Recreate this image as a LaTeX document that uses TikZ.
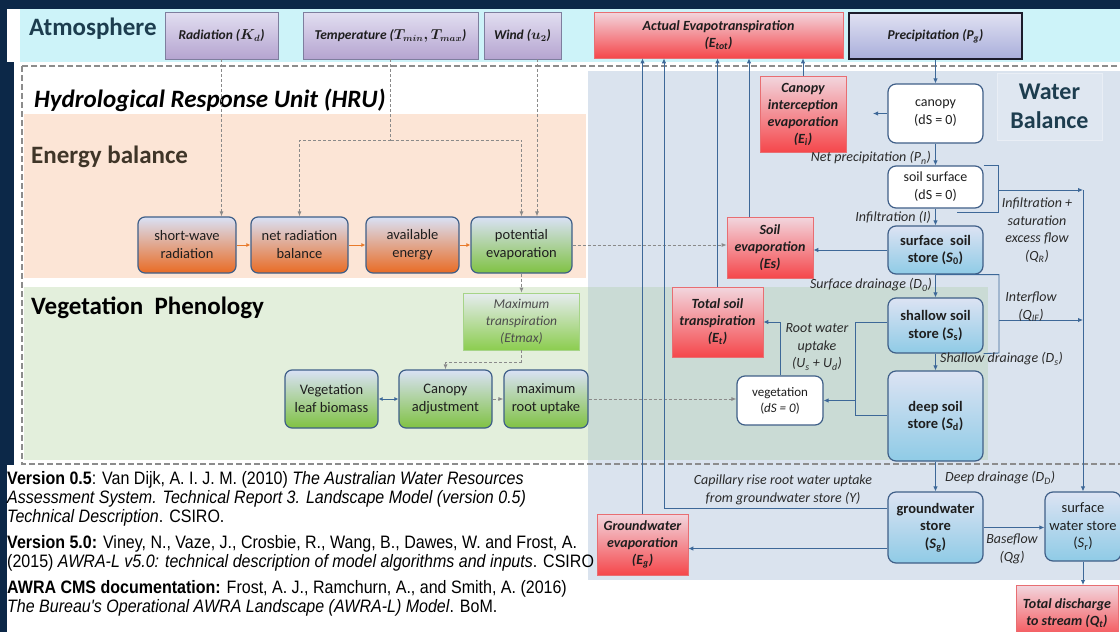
\documentclass[tikz,border=0pt]{standalone}
\usepackage{fontspec}
\setmainfont{Carlito}
\newfontfamily\reffont[FakeStretch=0.89]{Liberation Sans}
\usetikzlibrary{arrows.meta}

\definecolor{navy}{HTML}{0C2848}
\definecolor{cyanband}{HTML}{CDF3F9}
\definecolor{orangeR}{HTML}{FCE5D6}
\definecolor{blueR}{HTML}{DAE3EE}
\definecolor{greenR}{HTML}{E3EFDC}
\definecolor{greenB}{HTML}{CADBD5}
\definecolor{wbFill}{HTML}{DFE7F1}
\definecolor{wbLine}{HTML}{E9EEF5}
\definecolor{atmT}{HTML}{E2DFF1}
\definecolor{atmBot}{HTML}{B5A4D0}
\definecolor{atmB}{HTML}{7E7E9E}
\definecolor{prT}{HTML}{E0E1F2}
\definecolor{prBot}{HTML}{A9AEDB}
\definecolor{prB}{HTML}{1C1C2C}
\definecolor{redT}{HTML}{F2D6DE}
\definecolor{redBot}{HTML}{F5474B}
\definecolor{redB}{HTML}{E86E72}
\definecolor{boxB}{HTML}{3F5F88}
\definecolor{eT}{HTML}{D9E1F5}
\definecolor{eBot}{HTML}{E96B24}
\definecolor{gBot}{HTML}{80C243}
\definecolor{sT}{HTML}{DCE3F3}
\definecolor{sBot}{HTML}{8FCBE6}
\definecolor{mtT}{HTML}{E6ECF0}
\definecolor{mtBot}{HTML}{8CCD4F}
\definecolor{mtB}{HTML}{A6D488}
\definecolor{flowC}{HTML}{3D6898}
\definecolor{dashC}{HTML}{8A8A8A}
\definecolor{hruC}{HTML}{8C8C8C}
\definecolor{oraC}{HTML}{E87A2A}
\definecolor{labC}{HTML}{2A2A2A}
\definecolor{txtC}{HTML}{1E1E1E}
\definecolor{atmTxt}{HTML}{1D3D4F}
\definecolor{enTxt}{HTML}{3F3528}

\tikzset{
  atm/.style={draw=atmB, line width=0.8pt, top color=atmT, bottom color=atmBot, inner sep=0pt,
    align=center, text=txtC, font=\fontsize{13.5}{15}\selectfont\bfseries\itshape\boldmath},
  prbox/.style={atm, draw=prB, line width=1.3pt, top color=prT, bottom color=prBot},
  redbox/.style={draw=redB, line width=0.8pt, top color=redT, bottom color=redBot, inner sep=0pt,
    align=center, text=txtC, font=\fontsize{14}{17}\selectfont\bfseries\itshape},
  ebox/.style={rounded corners=7pt, draw=boxB, line width=1.2pt, top color=eT, bottom color=eBot,
    inner sep=0pt, align=center, text=txtC, font=\fontsize{14.5}{18}\selectfont},
  gbox/.style={ebox, bottom color=gBot},
  store/.style={rounded corners=8pt, draw=boxB, line width=1.2pt, top color=sT, bottom color=sBot,
    inner sep=0pt, align=center, text=txtC, font=\fontsize{14.5}{17.5}\selectfont\bfseries},
  wbox/.style={rounded corners=8pt, draw=boxB, line width=1.2pt, fill=white, inner sep=0pt,
    align=center, text=txtC, font=\fontsize{14}{18}\selectfont},
  mtbox/.style={draw=mtB, line width=0.6pt, top color=mtT, bottom color=mtBot, inner sep=0pt,
    align=center, text=black!70, font=\fontsize{13.5}{17}\selectfont\itshape},
  flow/.style={draw=flowC, line width=0.9pt},
  flowA/.style={flow, -{Latex[length=5pt,width=4.5pt]}},
  bothA/.style={flow, {Latex[length=4pt,width=4pt]}-{Latex[length=4pt,width=4pt]}},
  dsh/.style={draw=dashC, line width=0.8pt, dash pattern=on 3pt off 2pt},
  dshA/.style={dsh, -{Latex[length=5pt,width=4pt]}},
  orA/.style={draw=oraC, line width=1pt, -{Latex[length=4pt,width=4pt]}},
  lab/.style={inner sep=1pt, align=center, text=labC, font=\fontsize{14}{17.5}\selectfont\itshape},
  title/.style={inner sep=0pt, anchor=west, font=\fontsize{25}{29}\selectfont\bfseries},
  reftext/.style={inner sep=0pt, anchor=west, text=black, font=\reffont\fontsize{18}{20}\selectfont},
}

\begin{document}
\begin{tikzpicture}[x=1pt,y=-1pt]
\useasboundingbox (0,0) rectangle (1120,632);

% frame and shaded regions
\fill[navy] (0,0) rectangle (1120,632);
\fill[white] (7,9) rectangle (1120,632);
\fill[navy] (7,62) rectangle (14,465);
\fill[cyanband] (20,9) rectangle (1120,62);
\fill[orangeR] (24,114) rectangle (586,278);
\fill[blueR] (588,71) rectangle (1120,580);
\fill[greenR] (24,287) rectangle (588,460);
\fill[greenB] (588,287) rectangle (988,460);
\draw[hruC, line width=1.2pt, dash pattern=on 6pt off 3pt] (22,66) rectangle (1130,464);

% section titles
\node[title, text=atmTxt] (tAtm) at (29,29) {Atmosphere};
\node[title, font=\fontsize{25}{29}\selectfont\bfseries\itshape, text=black] (tHru) at (34,100) {Hydrological Response Unit (HRU)};
\node[title, text=enTxt] (tEn) at (31,157) {Energy balance};
\node[title, text=black] (tVeg) at (31,308) {Vegetation\ \ Phenology};
\node[draw=wbLine, line width=1pt, fill=wbFill, minimum width=105pt, minimum height=67pt, inner sep=0pt,
  align=center, text=atmTxt, font=\fontsize{24}{29}\selectfont\bfseries] (tWb) at (1049.5,106.5) {Water\\Balance};

% atmosphere forcing
\node[atm, minimum width=113pt, minimum height=47pt] (rad) at (221.5,35.5) {Radiation ($K_d$)};
\node[atm, minimum width=175pt, minimum height=47pt] (temp) at (390.5,35.5) {Temperature ($T_{min}, T_{max}$)};
\node[atm, minimum width=77pt, minimum height=47pt] (wind) at (522.5,35.5) {Wind ($u_2$)};
\node[redbox, minimum width=249pt, minimum height=46pt] (ae) at (718.5,35) {Actual Evapotranspiration\\(E\textsubscript{tot})};
\node[prbox, minimum width=173pt, minimum height=46pt] (prec) at (935.5,36) {Precipitation (P\textsubscript{g})};

% energy balance
\node[ebox, minimum width=98pt, minimum height=56pt] (sw) at (187,245) {short-wave\\radiation};
\node[ebox, minimum width=97pt, minimum height=56pt] (nr) at (299.5,245) {net radiation\\balance};
\node[ebox, minimum width=93pt, minimum height=56pt] (avail) at (412.5,245) {available\\energy};
\node[gbox, minimum width=101pt, minimum height=56pt] (pe) at (521.5,245) {potential\\evaporation};

% vegetation phenology
\node[mtbox, minimum width=116pt, minimum height=57pt] (maxT) at (521.5,321.5) {Maximum\\transpiration\\(Etmax)};
\node[gbox, minimum width=93pt, minimum height=58pt] (leaf) at (331.5,399) {Vegetation\\leaf biomass};
\node[gbox, minimum width=93pt, minimum height=58pt] (canadj) at (445.5,399) {Canopy\\adjustment};
\node[gbox, minimum width=84pt, minimum height=58pt] (maxroot) at (546,399) {maximum\\root uptake};

% evaporation fluxes
\node[redbox, minimum width=86pt, minimum height=76pt] (cint) at (803,114) {Canopy\\interception\\evaporation\\(E\textsubscript{i})};
\node[redbox, minimum width=86pt, minimum height=61pt] (sevap) at (770,247.5) {Soil\\evaporation\\(Es)};
\node[redbox, minimum width=91pt, minimum height=70pt] (tsoil) at (717.5,322) {Total soil\\transpiration\\(E\textsubscript{t})};
\node[redbox, minimum width=91pt, minimum height=61pt] (gwevap) at (642.5,544.5) {Groundwater\\evaporation\\(E\textsubscript{g})};
\node[redbox, minimum width=102pt, minimum height=56pt, anchor=north] (tdis) at (1067,585) {Total discharge\\to stream (Q\textsubscript{t})};

% water balance stores
\node[wbox, minimum width=95pt, minimum height=59pt] (canopy) at (935.5,113.5) {canopy\\(dS = 0)};
\node[wbox, minimum width=95pt, minimum height=42pt] (soilsurf) at (935.5,187) {soil surface\\(dS = 0)};
\node[wbox, minimum width=86pt, minimum height=49pt, font=\fontsize{13}{16}\selectfont] (veg) at (780,400.5) {vegetation\\(\textit{dS = 0})};
\node[store, minimum width=95pt, minimum height=48pt] (surfsoil) at (935.5,250) {surface\ \ soil\\store (\textit{S}\textsubscript{0})};
\node[store, minimum width=95pt, minimum height=55pt] (shallow) at (935.5,325.5) {shallow soil\\store (\textit{S}\textsubscript{s})};
\node[store, minimum width=95pt, minimum height=90pt] (deep) at (935.5,416) {deep soil\\store (\textit{S}\textsubscript{d})};
\node[store, minimum width=95pt, minimum height=71pt] (gw) at (935.5,527.5) {groundwater\\store\\(\textit{S}\textsubscript{g})};
\node[store, minimum width=76pt, minimum height=69pt, font=\fontsize{14.5}{17.5}\selectfont] (swstore) at (1083,526.5) {surface\\water store\\(\textit{S}\textsubscript{r})};

% atmospheric forcing into the energy balance
\coordinate (tj) at (390.5,140);
\coordinate (mj) at (521.5,362);
\draw[dshA] (rad.south) -- (rad.south |- sw.north);
\draw[dsh] (temp.south) -- (tj);
\draw[dshA] (tj) -| (nr.north);
\draw[dshA] (tj) -| (pe.north);
\draw[dshA] ([xshift=14.5pt]wind.south) -- ([xshift=14.5pt]wind.south |- pe.north);
\draw[orA] (sw.east) -- (nr.west);
\draw[orA] (nr.east) -- (avail.west);
\draw[orA] (avail.east) -- (pe.west);
\draw[dshA] (pe.east) -- (pe.east -| sevap.west);
\draw[dshA] (pe.south) -- (maxT.north);
\draw[dsh] (maxT.south) -- (mj);
\draw[dshA] (mj) -| (canadj.north);
\draw[bothA] (leaf.east) -- (canadj.west);
\draw[dshA] (canadj.east) -- (maxroot.west);
\draw[dshA] (maxroot.east) -- (maxroot.east -| veg.west);

% vertical water flow
\coordinate (cl) at (873,113.5);
\draw[flowA] (prec.south) -- (canopy.north);
\draw[flowA] (canopy.west) -- (cl);
\draw[flowA] (canopy.south) -- (soilsurf.north);
\draw[flowA] (soilsurf.south) -- (surfsoil.north);
\draw[flowA] (surfsoil.south) -- (shallow.north);
\draw[flowA] (shallow.south) -- (deep.north);
\draw[flowA] (deep.south) -- (gw.north);

% lateral flow to the surface water store
\coordinate (ssb) at (998,212);
\coordinate (ssl) at (957,212);
\coordinate (qrS) at (998,190);
\coordinate (qrE) at (1083,190);
\coordinate (ifb) at (999,353);
\coordinate (ifS) at (999,320);
\coordinate (ifE) at (1083,320);
\draw[flow] (soilsurf.north east) -| (ssb) -- (ssl);
\draw[flowA] (qrS) -- (qrE);
\draw[flowA] (qrE) -- (swstore.north);
\draw[flow] (surfsoil.south) -| (ifb) -- (shallow.south east);
\draw[flowA] (ifS) -- (ifE);
\draw[flowA] (gw.east) -- (gw.east -| swstore.west);
\draw[flowA] (swstore.south) -- (tdis.north -| swstore.south);

% evaporation and root uptake
\coordinate (ru1) at (855,322);
\coordinate (ru2) at (855,415);
\coordinate (ru3) at (855,400.5);
\coordinate (cap) at (664,508.5);
\draw[flowA] (surfsoil.west) -- (surfsoil.west -| sevap.east);
\draw[flow] (shallow.west |- ru1) -- (ru1) -- (ru2) -- (ru2 -| deep.west);
\draw[flowA] (ru3) -- (veg.east);
\draw[flowA] (veg.north) |- (tsoil.east);
\draw[flowA] ([yshift=-21pt]gw.west) -- ([yshift=-21pt]gw.west -| gwevap.east);
\draw[flowA] (gw.west |- cap) -- (cap) -- (cap |- ae.south);
\draw[flowA] (gwevap.north) -- (gwevap.north |- ae.south);
\draw[flowA] (tsoil.north) -- (tsoil.north |- ae.south);
\draw[flowA] ([xshift=-21pt]sevap.north) -- ([xshift=-21pt]sevap.north |- ae.south);
\draw[flowA] (cint.north) -- (cint.north |- ae.south);

% flux labels
\node[lab, anchor=east] (lNp) at (932,158) {Net precipitation (P\textsubscript{n})};
\node[lab, anchor=east] (lInf) at (932,217) {Infiltration (I)};
\node[lab, anchor=east] (lSd) at (933,285) {Surface drainage (D\textsubscript{0})};
\node[lab, anchor=west] (lShd) at (939,359) {Shallow drainage (D\textsubscript{s})};
\node[lab, anchor=west] (lDd) at (944,478) {Deep drainage (D\textsubscript{D})};
\node[lab] (lQr) at (1037,230) {Infiltration +\\saturation\\excess flow\\(Q\textsubscript{R})};
\node[lab] (lIf) at (1031,307) {Interflow\\(Q\textsubscript{IF})};
\node[lab] (lRu) at (817,347) {Root water\\uptake\\(U\textsubscript{s} + U\textsubscript{d})};
\node[lab] (lCap) at (783,490) {Capillary rise root water uptake\\from groundwater store (Y)};
\node[lab] (lBf) at (1012,549) {Baseflow\\(Qg)};

% references
\node[reftext] (ref1) at (7,480) {\textbf{Version 0.5}: Van Dijk, A. I. J. M. (2010) \textit{The Australian Water Resources}};
\node[reftext] (ref2) at (7,499) {\textit{Assessment System. Technical Report 3. Landscape Model (version 0.5)}};
\node[reftext] (ref3) at (7,518) {\textit{Technical Description}. CSIRO.};
\node[reftext] (ref4) at (7,544) {\textbf{Version 5.0:} Viney, N., Vaze, J., Crosbie, R., Wang, B., Dawes, W. and Frost, A.};
\node[reftext] (ref5) at (7,563) {(2015) \textit{AWRA-L v5.0: technical description of model algorithms and inputs}. CSIRO};
\node[reftext] (ref6) at (7,589) {\textbf{AWRA CMS documentation:} Frost, A. J., Ramchurn, A., and Smith, A. (2016)};
\node[reftext] (ref7) at (7,608) {\textit{The Bureau's Operational AWRA Landscape (AWRA-L) Model}. BoM.};
\end{tikzpicture}
\end{document}
